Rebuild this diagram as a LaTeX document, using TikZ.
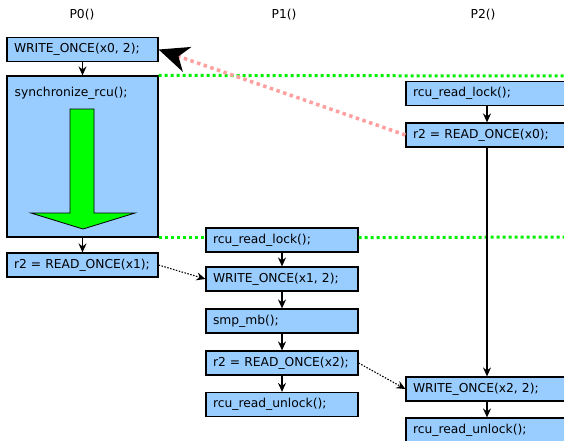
\documentclass[tikz,border=0pt]{standalone}
\usepackage{fontspec}
\setmainfont{DejaVu Sans}
\usetikzlibrary{arrows.meta}
\definecolor{boxblue}{RGB}{153,204,255}
\definecolor{pinkdot}{RGB}{255,160,160}
\definecolor{greendot}{RGB}{0,240,0}
\definecolor{arrowgreen}{RGB}{0,255,0}
\newcommand\oneline[1]{\mbox{#1}}
\begin{document}
\begin{tikzpicture}[x=1pt,y=-1pt,
  font=\fontsize{12.3}{14}\selectfont,
  stmt/.style={draw=black, line width=1.2pt, fill=boxblue, minimum height=24pt,
    inner xsep=7pt, inner ysep=0pt, text width=#1, align=left},
  seq/.style={line width=1.2pt, -{Stealth[length=9pt,width=8pt,inset=3pt]}},
  rf/.style={line width=1.1pt, dash pattern=on 1.5pt off 1.5pt,
    -{Stealth[length=9pt,width=8pt,inset=3pt]}},
  gline/.style={greendot, line width=3pt, dash pattern=on 3pt off 3pt},
  title/.style={inner sep=0pt}]
\useasboundingbox (0,0) rectangle (564,440);
\clip (0,0) rectangle (564,440);
\fill[white] (0,0) rectangle (564,440);

% titles
\node[title] (t0) at (82,15) {P0()};
\node[title] (t1) at (284,15) {P1()};
\node[title] (t2) at (483,15) {P2()};

% P0
\node[stmt=137pt] (w0) at (82.5,49.5) {\oneline{WRITE\_ONCE(x0, 2);}};
\node[draw=black, line width=1.2pt, fill=boxblue, minimum width=151pt,
  minimum height=161pt, inner sep=0pt] (sync) at (82.5,156.5) {};
\node[anchor=west, inner sep=0pt] (synct) at (14.5,93) {synchronize\_rcu();};
\draw[fill=arrowgreen, line width=0.8pt] (70,109) -- (94,109) -- (94,213) -- (135,213)
  -- (83,229) -- (31,213) -- (70,213) -- cycle;
\node[stmt=137pt] (r2x1) at (82.5,265) {\oneline{r2 = READ\_ONCE(x1);}};

% P1
\node[stmt=138pt] (lk1) at (282,240) {\oneline{rcu\_read\_lock();}};
\node[stmt=138pt] (w1) at (282,279) {\oneline{WRITE\_ONCE(x1, 2);}};
\node[stmt=138pt] (mb) at (282,321) {\oneline{smp\_mb();}};
\node[stmt=138pt] (r2x2) at (282,363) {\oneline{r2 = READ\_ONCE(x2);}};
\node[stmt=138pt] (ul1) at (282,404.5) {\oneline{rcu\_read\_unlock();}};

% P2
\node[stmt=148pt] (lk2) at (487,93.5) {\oneline{rcu\_read\_lock();}};
\node[stmt=148pt] (r2x0) at (487,135) {\oneline{r2 = READ\_ONCE(x0);}};
\node[stmt=148pt] (w2) at (487,389) {\oneline{WRITE\_ONCE(x2, 2);}};
\node[stmt=148pt] (ul2) at (487,430) {\oneline{rcu\_read\_unlock();}};

% grace period lines
\coordinate (gr1) at (570,76);
\coordinate (gr2) at (570,237);
\draw[gline] (sync.north east) -- (gr1);
\draw[gline] (sync.south east) -- (sync.south east -| lk1.west);
\draw[gline] (lk1.east |- sync.south east) -- (gr2);

% program order
\draw[seq] (w0) -- (sync);
\draw[seq] (sync) -- (r2x1);
\draw[seq] (lk1) -- (w1);
\draw[seq] (w1) -- (mb);
\draw[seq] (mb) -- (r2x2);
\draw[seq] (r2x2) -- (ul1);
\draw[seq] (lk2) -- (r2x0);
\draw[seq] (r2x0) -- (w2);
\draw[seq] (w2) -- (ul2);

% reads-from
\draw[rf] (r2x1.east) -- (w1.west);
\draw[rf] (r2x2.east) -- (w2.west);
\draw[pinkdot, line width=3.5pt, dash pattern=on 3.5pt off 3.5pt,
  -{Stealth[black, length=30pt, width=26pt, inset=9pt]}] (r2x0.west) -- (w0.east);
\end{tikzpicture}
\end{document}
